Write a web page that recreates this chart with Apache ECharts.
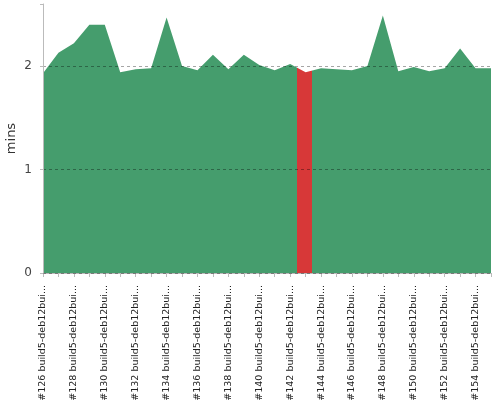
<!DOCTYPE html>
<html>
<head>
<meta charset="utf-8">
<script src="https://cdn.jsdelivr.net/npm/echarts@6/dist/echarts.min.js"></script>
<style>
  html, body { margin: 0; padding: 0; background: #fff; }
  #chart { width: 500px; height: 400px; }
</style>
</head>
<body>
<div id="chart"></div>
<script>
// build numbers #126 .. #155, agent name gets cut off by the label width
const buildNumbers = [126, 127, 128, 129, 130, 131, 132, 133, 134, 135,
  136, 137, 138, 139, 140, 141, 142, 143, 144, 145,
  146, 147, 148, 149, 150, 151, 152, 153, 154, 155];
const agentName = 'build5-deb12builder';
const categories = buildNumbers.map(n => '#' + n + ' ' + agentName);

// duration in minutes
const durations = [1.93, 2.13, 2.22, 2.40, 2.40, 1.94, 1.97, 1.98, 2.47, 2.00,
  1.96, 2.11, 1.97, 2.11, 2.01, 1.96, 2.02, 1.94, 1.98, 1.97,
  1.96, 2.00, 2.49, 1.95, 1.99, 1.95, 1.98, 2.17, 1.98, 1.98];

// failed build #143 sits at index 17, band drawn a bit left of the point
const failedFrom = 16.42;
const failedTo = 17.44;

const yTicks = [0, 1, 2];

const green = '#459d6d';
const red = '#d73838';

// x is a value axis over the build index so the red band can start between points
const seriesData = durations.map((v, i) => [i, v]);

const chart = echarts.init(document.getElementById('chart'));

const option = {
  animation: false,
  grid: { left: 43, right: 9, top: 4, bottom: 127, outerBoundsMode: 'none' },
  visualMap: {
    show: false,
    type: 'piecewise',
    dimension: 0,
    seriesIndex: 0,
    pieces: [
      { lt: failedFrom, color: green },
      { gte: failedFrom, lte: failedTo, color: red },
      { gt: failedTo, color: green }
    ]
  },
  xAxis: {
    type: 'value',
    min: 0,
    max: categories.length - 1,
    interval: 1,
    offset: 6,
    splitLine: { show: false },
    axisLine: { lineStyle: { color: '#bbb' } },
    axisTick: { show: true, length: 4, lineStyle: { color: '#bbb' } },
    axisLabel: {
      rotate: 90,
      margin: 6,
      width: 117,
      overflow: 'truncate',
      ellipsis: '...',
      showMinLabel: true,
      showMaxLabel: true,
      fontFamily: 'DejaVu Sans',
      fontSize: 9.5,
      color: '#222',
      formatter: v => (v % 2 === 0 ? categories[v] : '')
    }
  },
  yAxis: {
    type: 'value',
    min: 0,
    max: 2.6,
    interval: 1,
    offset: 3,
    z: 5,
    name: 'mins',
    nameLocation: 'middle',
    nameGap: 22,
    nameMoveOverlap: false,
    nameTextStyle: { fontFamily: 'DejaVu Sans', fontSize: 13, color: '#333' },
    axisLine: { show: true, lineStyle: { color: '#bbb' } },
    axisTick: { show: true, length: 3, lineStyle: { color: '#bbb' } },
    axisLabel: {
      margin: 8,
      fontFamily: 'DejaVu Sans',
      fontSize: 12,
      color: '#444',
      formatter: v => (yTicks.indexOf(v) >= 0 ? String(v) : '')
    },
    splitLine: {
      show: true,
      showMaxLine: false,
      lineStyle: { color: 'rgba(0,0,0,0.35)', type: [3, 3], width: 1 }
    }
  },
  series: [{
    type: 'line',
    data: seriesData,
    symbol: 'none',
    lineStyle: { width: 0 },
    areaStyle: { opacity: 1 }
  }]
};

chart.setOption(option);
</script>
</body>
</html>
